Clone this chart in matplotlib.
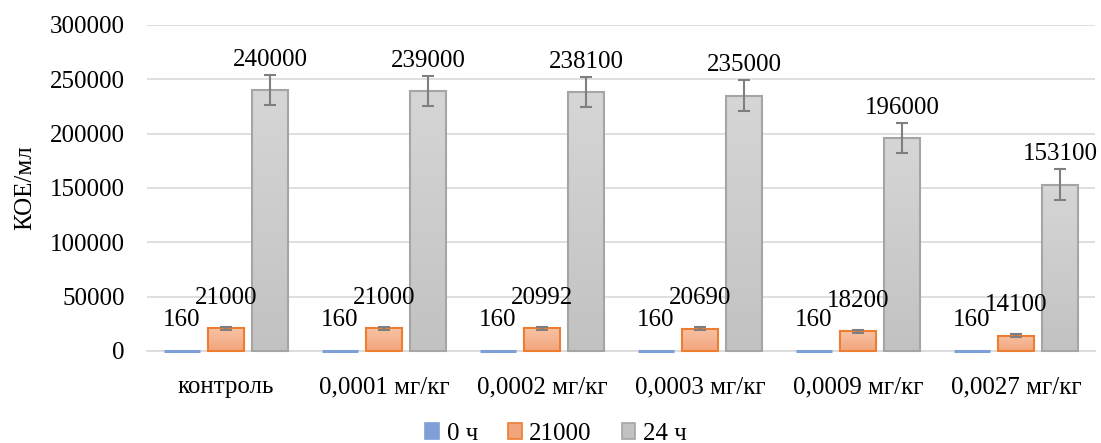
import numpy as np
import matplotlib
matplotlib.use("Agg")
import matplotlib.pyplot as plt
from matplotlib.colors import LinearSegmentedColormap
from matplotlib.patches import Patch

plt.rcParams['font.family'] = ['Liberation Serif', 'DejaVu Serif']

categories = ["контроль", "0,0001 мг/кг", "0,0002 мг/кг", "0,0003 мг/кг",
              "0,0009 мг/кг", "0,0027 мг/кг"]
series_names = ["0 ч", "21000", "24 ч"]
values_0h = [160, 160, 160, 160, 160, 160]
values_21000 = [21000, 21000, 20992, 20690, 18200, 14100]
values_24h = [240000, 239000, 238100, 235000, 196000, 153100]
err_0h = [0, 0, 0, 0, 0, 0]
err_21000 = [1500, 1500, 1500, 1500, 1500, 1500]
err_24h = [14000, 14000, 14000, 14000, 14000, 14000]

series = [values_0h, values_21000, values_24h]
errors = [err_0h, err_21000, err_24h]
# (top colour, bottom colour, edge colour, edge width)
styles = [("#a9bfe6", "#7f9fd6", "#7f9fd8", 2.2),
          ("#f8c2a4", "#f2a57c", "#ed7d31", 1.5),
          ("#d6d6d6", "#c2c2c2", "#a5a5a5", 1.5)]

FS = 18

fig = plt.figure(figsize=(11.01, 4.43), dpi=100)
ax = fig.add_axes([0.1335, 0.2077, 0.861, 0.7359])

x = np.arange(len(categories))
width = 0.228
offsets = [-0.278, 0.0, 0.278]

for vals, errs, off, (ctop, cbot, cedge, lw) in zip(series, errors, offsets, styles):
    cmap = LinearSegmentedColormap.from_list("g", [cbot, ctop])
    grad = np.linspace(0, 1, 256).reshape(-1, 1)
    bars = ax.bar(x + off, vals, width, facecolor="none", edgecolor=cedge,
                  linewidth=lw, zorder=3, clip_on=False)
    for b in bars:
        bx, by = b.get_x(), b.get_y()
        bw, bh = b.get_width(), b.get_height()
        im = ax.imshow(grad, cmap=cmap, aspect="auto", origin="lower",
                       extent=(bx, bx + bw, by, by + bh), zorder=2)
        im.set_clip_path(b)
    if any(errs):
        ax.errorbar(x + off, vals, yerr=errs, fmt="none", ecolor="#7f7f7f",
                    elinewidth=1.5, capsize=4, capthick=1.5, zorder=4)
    for xi, v in zip(x + off, vals):
        ax.annotate(f"{v}", (xi, v), xytext=(0, 14), textcoords="offset points",
                    ha="center", va="bottom", fontsize=FS, color="black",
                    zorder=5)

ax.set_xlim(-0.5, len(categories) - 0.5)
ax.set_ylim(0, 300000)
ax.set_yticks(np.arange(0, 300001, 50000))
ax.set_yticklabels([str(t) for t in range(0, 300001, 50000)], fontsize=FS)
ax.set_xticks(x)
ax.set_xticklabels(categories, fontsize=FS)
ax.tick_params(axis="both", length=0)
ax.tick_params(axis="y", pad=16)
ax.tick_params(axis="x", pad=18)
ax.yaxis.grid(True, color="#d9d9d9", linewidth=1.2, zorder=0)
ax.set_axisbelow(True)
for s in ["top", "right", "left"]:
    ax.spines[s].set_visible(False)
ax.spines["bottom"].set_color("#d9d9d9")
ax.spines["bottom"].set_linewidth(1.2)
ax.set_ylabel("КОЕ/мл", fontsize=FS)
ax.yaxis.set_label_coords(-0.117, 0.5)

handles = [Patch(facecolor=st[1], edgecolor=st[2], linewidth=1.2) for st in styles]
fig.legend(handles, series_names, loc="lower center", ncol=3, frameon=False,
           fontsize=FS, handlelength=0.55, handleheight=0.55, handletextpad=0.3,
           columnspacing=1.2, bbox_to_anchor=(0.505, -0.055))

fig.savefig("out.png", dpi=100)
